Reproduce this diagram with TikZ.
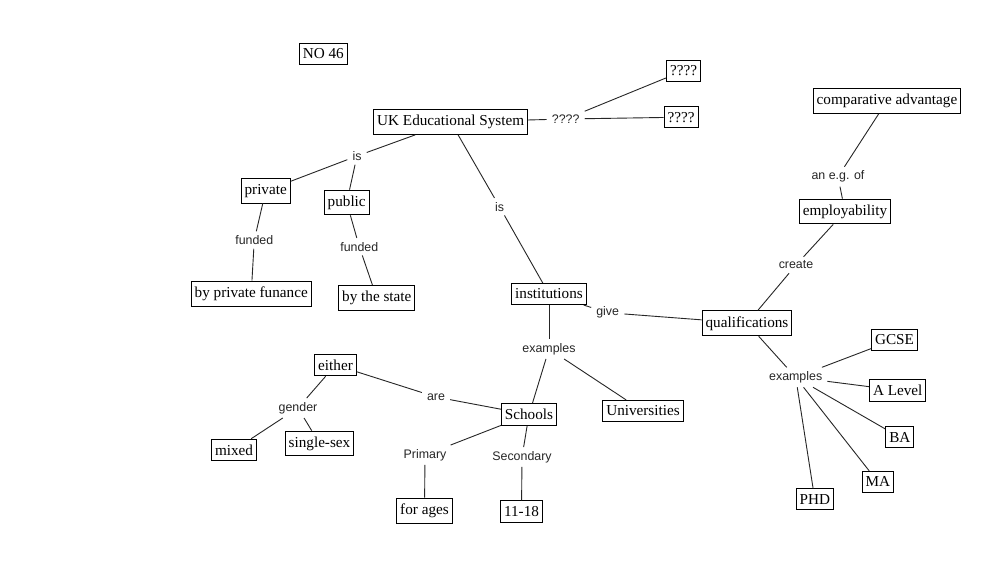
\documentclass[tikz,border=0pt]{standalone}
\usepackage{fontspec}
\setmainfont{Liberation Serif}
\newfontfamily\labfont{Liberation Sans}
\begin{document}
\begin{tikzpicture}[x=1pt,y=-1pt,
  concept/.style={draw=black,line width=0.9pt,fill=white,inner xsep=3.5pt,inner ysep=5.5pt,font=\fontsize{15.2}{17}\selectfont},
  linklabel/.style={inner xsep=5pt,inner ysep=4pt,font=\labfont\fontsize{12.4}{14}\selectfont,text=black!85},
  conn/.style={draw=black!85,line width=0.9pt}]
\fill[white] (0,0) rectangle (1005,563);
\useasboundingbox (0,0) rectangle (1005,563);

% concepts
\node[concept] (no46) at (323.3,53.8) {NO 46};
\node[concept] (uk) at (450.7,122) {UK Educational System};
\node[concept] (qtop) at (683.5,70.8) {????};
\node[concept] (qbot) at (681,117.2) {????};
\node[concept] (private) at (265.7,190.8) {private};
\node[concept] (public) at (346.7,202.5) {public};
\node[concept] (bpf) at (251.2,293.5) {by private funance};
\node[concept] (bts) at (376.8,297.8) {by the state};
\node[concept] (inst) at (549,294) {institutions};
\node[concept] (qual) at (747,323.3) {qualifications};
\node[concept] (empl) at (845,211.5) {employability};
\node[concept] (comp) at (887,101) {comparative advantage};
\node[concept] (gcse) at (894.5,339.7) {GCSE};
\node[concept] (alevel) at (897.7,390.3) {A Level};
\node[concept] (ba) at (899.8,437.3) {BA};
\node[concept] (ma) at (877.8,481.8) {MA};
\node[concept] (phd) at (814.8,499.3) {PHD};
\node[concept] (univ) at (643,411) {Universities};
\node[concept] (schools) at (529,414.5) {Schools};
\node[concept] (either) at (335.5,365) {either};
\node[concept] (mixed) at (234,450) {mixed};
\node[concept] (single) at (319.5,443.5) {single-sex};
\node[concept] (ages) at (424.5,510.5) {for ages};
\node[concept] (elev) at (521.5,511.5) {11-18};

% link labels
\node[linklabel] (lq) at (565.7,119) {????};
\node[linklabel] (lis1) at (357,156) {is};
\node[linklabel] (lf1) at (254.3,240) {funded};
\node[linklabel] (lf2) at (359.3,246.7) {funded};
\node[linklabel] (lis2) at (499.5,206.7) {is};
\node[linklabel] (lgive) at (607.7,312.7) {give};
\node[linklabel] (lcreate) at (796,265) {create};
\node[linklabel] (leg) at (838,176.7) {an e.g. of};
\node[linklabel] (lex2) at (795.7,377.3) {examples};
\node[linklabel] (lex1) at (549,349) {examples};
\node[linklabel] (lare) at (436,397) {are};
\node[linklabel] (lgender) at (298,408) {gender};
\node[linklabel] (lprim) at (425,455) {Primary};
\node[linklabel] (lsec) at (522,457) {Secondary};

% connectors
\draw[conn] (uk) -- (lq);
\draw[conn] (lq) -- (qtop);
\draw[conn] (lq) -- (qbot);
\draw[conn] (uk) -- (lis1);
\draw[conn] (lis1) -- (private);
\draw[conn] (lis1) -- (public);
\draw[conn] (private) -- (lf1);
\draw[conn] (lf1) -- (bpf);
\draw[conn] (public) -- (lf2);
\draw[conn] (lf2) -- (bts);
\draw[conn] (uk) -- (lis2);
\draw[conn] (lis2) -- (inst);
\draw[conn] (inst) -- (lgive);
\draw[conn] (lgive) -- (qual);
\draw[conn] (qual) -- (lcreate);
\draw[conn] (lcreate) -- (empl);
\draw[conn] (empl) -- (leg);
\draw[conn] (leg) -- (comp);
\draw[conn] (qual) -- (lex2);
\draw[conn] (lex2) -- (gcse);
\draw[conn] (lex2) -- (alevel);
\draw[conn] (lex2) -- (ba);
\draw[conn] (lex2) -- (ma);
\draw[conn] (lex2) -- (phd);
\draw[conn] (inst) -- (lex1);
\draw[conn] (lex1) -- (schools);
\draw[conn] (lex1) -- (univ);
\draw[conn] (schools) -- (lare);
\draw[conn] (lare) -- (either);
\draw[conn] (either) -- (lgender);
\draw[conn] (lgender) -- (mixed);
\draw[conn] (lgender) -- (single);
\draw[conn] (schools) -- (lprim);
\draw[conn] (lprim) -- (ages);
\draw[conn] (schools) -- (lsec);
\draw[conn] (lsec) -- (elev);
\end{tikzpicture}
\end{document}
